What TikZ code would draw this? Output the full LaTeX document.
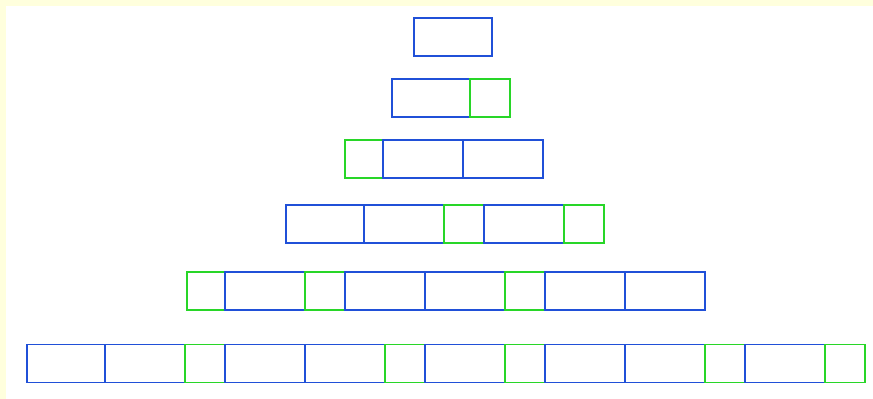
\documentclass[tikz,border=0pt]{standalone}
\usetikzlibrary{positioning}
\definecolor{wallblue}{RGB}{32,80,216}
\definecolor{wallgreen}{RGB}{40,214,40}
\definecolor{paleyellow}{RGB}{255,255,221}

\begin{document}
\begin{tikzpicture}[x=1pt, y=-1pt,
    cell/.style={draw, line width=1.5pt, inner sep=0pt, outer sep=0pt, minimum height=38pt},
    bluebox/.style={cell, draw=wallblue, minimum width=80pt},
    greenbox/.style={cell, draw=wallgreen, minimum width=40pt},
    trimmed/.style={minimum width=#1-2pt}]
        \useasboundingbox (0,0) rectangle (873,399);
        \fill[white] (0,0) rectangle (873,399);
        \fill[paleyellow] (0,0) rectangle (873,6);
        \fill[paleyellow] (0,0) rectangle (6,399);

        \node[bluebox, trimmed=80pt, anchor=west] (r1a) at (414,37) {};

        \node[bluebox, trimmed=80pt, anchor=west] (r2a) at (392,98) {};
        \node[greenbox, right=0pt of r2a] (r2b) {};

        \node[greenbox, trimmed=40pt, anchor=west] (r3a) at (345,159) {};
        \node[bluebox, right=0pt of r3a] (r3b) {};
        \node[bluebox, right=0pt of r3b] (r3c) {};

        \node[bluebox, trimmed=80pt, anchor=west] (r4a) at (286,224) {};
        \node[bluebox, right=0pt of r4a] (r4b) {};
        \node[greenbox, right=0pt of r4b] (r4c) {};
        \node[bluebox, right=0pt of r4c] (r4d) {};
        \node[greenbox, right=0pt of r4d] (r4e) {};

        \node[greenbox, trimmed=40pt, anchor=west] (r5a) at (187,291) {};
        \node[bluebox, right=0pt of r5a] (r5b) {};
        \node[greenbox, right=0pt of r5b] (r5c) {};
        \node[bluebox, right=0pt of r5c] (r5d) {};
        \node[bluebox, right=0pt of r5d] (r5e) {};
        \node[greenbox, right=0pt of r5e] (r5f) {};
        \node[bluebox, right=0pt of r5f] (r5g) {};
        \node[bluebox, right=0pt of r5g] (r5h) {};

        \node[bluebox, trimmed=80pt, anchor=west] (r6a) at (27,363.5) {};
        \node[bluebox, right=0pt of r6a] (r6b) {};
        \node[greenbox, right=0pt of r6b] (r6c) {};
        \node[bluebox, right=0pt of r6c] (r6d) {};
        \node[bluebox, right=0pt of r6d] (r6e) {};
        \node[greenbox, right=0pt of r6e] (r6f) {};
        \node[bluebox, right=0pt of r6f] (r6g) {};
        \node[greenbox, right=0pt of r6g] (r6h) {};
        \node[bluebox, right=0pt of r6h] (r6i) {};
        \node[bluebox, right=0pt of r6i] (r6j) {};
        \node[greenbox, right=0pt of r6j] (r6k) {};
        \node[bluebox, right=0pt of r6k] (r6l) {};
        \node[greenbox, right=0pt of r6l] (r6m) {};
    \end{tikzpicture}
\end{document}
